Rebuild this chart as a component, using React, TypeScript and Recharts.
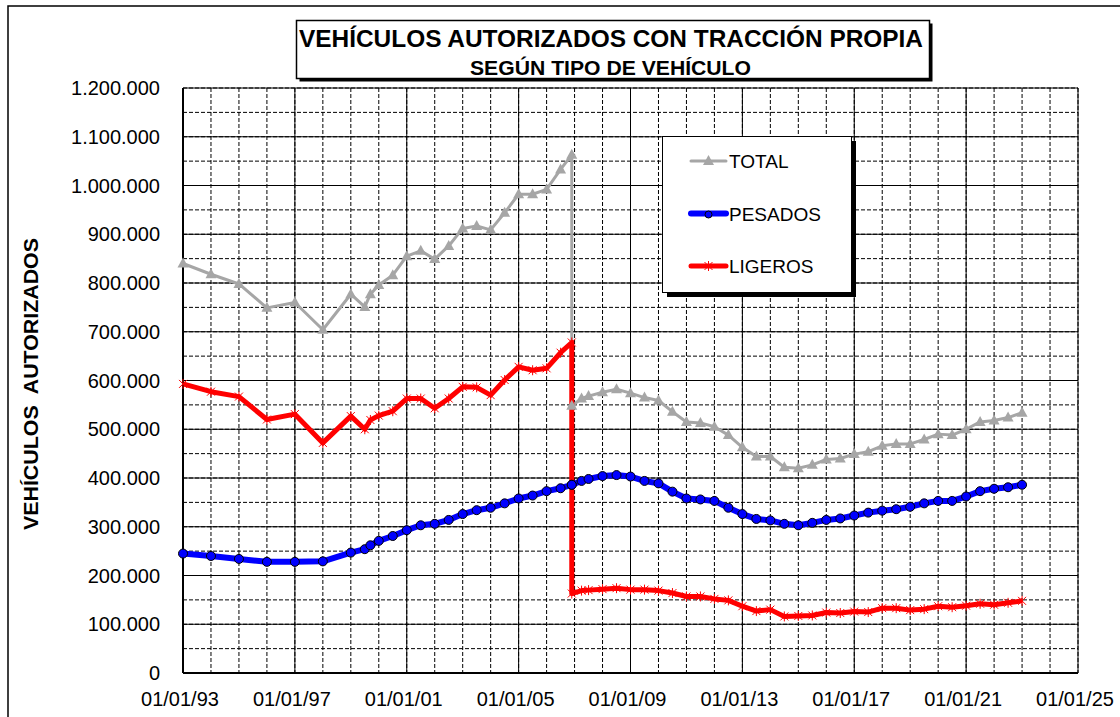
import { LineChart, Line, XAxis, YAxis, CartesianGrid, Legend } from 'recharts'

// fechas en años decimales (el corte de 2006 aparece dos veces: antes y después)
const dates = [
  1993, 1994, 1995, 1996, 1997, 1998, 1999, 1999.5, 1999.7, 2000, 2000.5, 2001,
  2001.5, 2002, 2002.5, 2003, 2003.5, 2004, 2004.5, 2005, 2005.5, 2006, 2006.5, 2006.9,
  2006.9, 2007.25, 2007.5, 2008, 2008.5, 2009, 2009.5, 2010, 2010.5, 2011, 2011.5, 2012,
  2012.5, 2013, 2013.5, 2014, 2014.5, 2015, 2015.5, 2016, 2016.5, 2017, 2017.5, 2018,
  2018.5, 2019, 2019.5, 2020, 2020.5, 2021, 2021.5, 2022, 2022.5, 2023,
]

const total = [
  840000, 818000, 798000, 749000, 760000, 704000, 777000, 751000, 777000, 796000, 816000, 855000,
  866000, 849000, 876000, 912000, 917000, 909000, 944000, 982000, 982000, 992000, 1033000, 1063000,
  548000, 563000, 568000, 576000, 582000, 574000, 565000, 559000, 536000, 515000, 513000, 505000,
  488000, 463000, 444000, 444000, 422000, 420000, 427000, 438000, 440000, 449000, 454000, 466000,
  470000, 470000, 479000, 490000, 488000, 500000, 515000, 518000, 524000, 534000,
]

const pesados = [
  245000, 240000, 234000, 228000, 228000, 229000, 247000, 254000, 262000, 271000, 281000, 293000,
  303000, 306000, 314000, 326000, 334000, 339000, 348000, 358000, 364000, 373000, 379000, 386000,
  386000, 394000, 398000, 404000, 406000, 403000, 394000, 389000, 372000, 358000, 356000, 353000,
  339000, 326000, 316000, 313000, 306000, 303000, 308000, 314000, 317000, 323000, 329000, 333000,
  336000, 341000, 348000, 353000, 353000, 362000, 373000, 378000, 381000, 386000,
]

const ligeros = [
  593000, 577000, 567000, 520000, 531000, 472000, 527000, 500000, 519000, 528000, 537000, 563000,
  563000, 543000, 563000, 587000, 586000, 570000, 601000, 628000, 621000, 625000, 657000, 678000,
  163000, 169000, 170000, 172000, 174000, 171000, 171000, 169000, 164000, 157000, 157000, 152000,
  149000, 137000, 127000, 130000, 116000, 117000, 118000, 124000, 123000, 126000, 125000, 133000,
  133000, 129000, 131000, 137000, 135000, 138000, 142000, 140000, 144000, 148000,
]

const xLabelTicks = [1993, 1997, 2001, 2005, 2009, 2013, 2017, 2021, 2025]
const xGridTicks = [
  1993, 1994, 1995, 1996, 1997, 1998, 1999, 2000, 2001, 2002, 2003, 2004, 2005, 2006, 2007, 2008, 2009,
  2010, 2011, 2012, 2013, 2014, 2015, 2016, 2017, 2018, 2019, 2020, 2021, 2022, 2023, 2024, 2025,
]
const yLabelTicks = [
  0, 100000, 200000, 300000, 400000, 500000, 600000, 700000, 800000, 900000, 1000000, 1100000, 1200000,
]
const yGridTicks = [
  0, 50000, 100000, 150000, 200000, 250000, 300000, 350000, 400000, 450000, 500000, 550000, 600000,
  650000, 700000, 750000, 800000, 850000, 900000, 950000, 1000000, 1050000, 1100000, 1150000, 1200000,
]

const legendOrder = ['total', 'pesados', 'ligeros']

const data = dates.map((d, i) => ({
  fecha: d,
  total: total[i],
  pesados: pesados[i],
  ligeros: ligeros[i],
}))

const GRAY = '#A6A6A6'
const BLUE = '#0000FF'
const RED = '#FF0000'
const FONT = '"Liberation Sans", Arial, sans-serif'

const fmtMiles = (v: number) => String(v).replace(/\B(?=(\d{3})+(?!\d))/g, '.')
const fmtFecha = (v: number) => `01/01/${String(v).slice(2)}`

function TriangleMark({ x, y }: { x: number; y: number }) {
  return <polygon points={`${x},${y - 6} ${x - 5.5},${y + 4} ${x + 5.5},${y + 4}`} fill={GRAY} />
}

function StarMark({ x, y }: { x: number; y: number }) {
  return (
    <g stroke={RED} strokeWidth={1}>
      <line x1={x - 4} y1={y - 4} x2={x + 4} y2={y + 4} />
      <line x1={x - 4} y1={y + 4} x2={x + 4} y2={y - 4} />
      <line x1={x} y1={y - 5} x2={x} y2={y + 5} />
    </g>
  )
}

const triangleDot = (p: any) => (
  <g key={`t-${p.index}`}>{p.cx != null && <TriangleMark x={p.cx} y={p.cy} />}</g>
)
const circleDot = (p: any) => (
  <circle key={`c-${p.index}`} cx={p.cx} cy={p.cy} r={4.5} fill={BLUE} stroke="#000" strokeWidth={1} />
)
const starDot = (p: any) => (
  <g key={`s-${p.index}`}>{p.cx != null && <StarMark x={p.cx} y={p.cy} />}</g>
)

const legendStyle: Record<string, { color: string; width: number }> = {
  total: { color: GRAY, width: 3 },
  pesados: { color: BLUE, width: 6 },
  ligeros: { color: RED, width: 5 },
}

function LegendBox({ payload }: any) {
  const items = [...(payload || [])].sort(
    (a: any, b: any) => legendOrder.indexOf(a.dataKey) - legendOrder.indexOf(b.dataKey)
  )
  return (
    <svg width={196} height={164}>
      <rect x={5} y={5} width={189} height={156} fill="#000" />
      <rect x={0.5} y={0.5} width={189} height={156} fill="#fff" stroke="#000" strokeWidth={1} />
      {items.map((entry: any, i: number) => {
        const st = legendStyle[entry.dataKey] || { color: entry.color, width: 3 }
        const cy = 25 + i * 52.5
        return (
          <g key={entry.value}>
            <line x1={29} y1={cy} x2={64} y2={cy} stroke={st.color} strokeWidth={st.width} strokeLinecap="round" />
            {entry.dataKey === 'total' && <TriangleMark x={46.5} y={cy} />}
            {entry.dataKey === 'pesados' && (
              <circle cx={46.5} cy={cy + 1} r={3.5} fill={BLUE} stroke="#000" strokeWidth={1} />
            )}
            {entry.dataKey === 'ligeros' && <StarMark x={46.5} y={cy} />}
            <text x={67} y={cy + 7} fontSize={19} fontFamily={FONT} fill="#000">
              {entry.value}
            </text>
          </g>
        )
      })}
    </svg>
  )
}

export default function App() {
  return (
    <div
      style={{
        position: 'fixed',
        left: 0,
        top: 0,
        width: 1120,
        height: 717,
        background: '#fff',
        overflow: 'hidden',
        fontFamily: FONT,
      }}
    >
      <div style={{ position: 'absolute', left: 0, top: 0 }}>
        <LineChart width={1120} height={717} data={data} margin={{ top: 88, right: 42, bottom: 14, left: 63 }}>
          <CartesianGrid
            stroke="#000"
            strokeDasharray="4 2"
            strokeWidth={1}
            horizontalValues={yGridTicks}
            verticalValues={xGridTicks}
          />
          <CartesianGrid stroke="#000" strokeWidth={1} horizontalValues={yLabelTicks} verticalValues={xLabelTicks} />
          <XAxis
            dataKey="fecha"
            type="number"
            domain={[1993, 2025]}
            ticks={xLabelTicks}
            interval={0}
            tickFormatter={fmtFecha}
            tickLine={false}
            tickSize={0}
            tickMargin={19}
            height={30}
            axisLine={{ stroke: '#000', strokeWidth: 2 }}
            tick={{ fill: '#000', fontSize: 20, fontFamily: FONT, dx: -3 }}
          />
          <XAxis
            xAxisId="top"
            orientation="top"
            dataKey="fecha"
            type="number"
            domain={[1993, 2025]}
            ticks={xLabelTicks}
            tick={false}
            tickLine={false}
            height={0}
            axisLine={{ stroke: '#000', strokeWidth: 2 }}
          />
          <YAxis
            type="number"
            domain={[0, 1200000]}
            ticks={yLabelTicks}
            interval={0}
            tickFormatter={fmtMiles}
            tickLine={false}
            tickSize={0}
            tickMargin={23}
            width={120}
            axisLine={{ stroke: '#000', strokeWidth: 2 }}
            tick={{ fill: '#000', fontSize: 20, fontFamily: FONT }}
          />
          <YAxis
            yAxisId="right"
            orientation="right"
            type="number"
            domain={[0, 1200000]}
            ticks={yLabelTicks}
            tick={false}
            tickLine={false}
            width={0}
            axisLine={{ stroke: '#000', strokeWidth: 2 }}
          />
          <Legend
            layout="vertical"
            align="center"
            verticalAlign="middle"
            wrapperStyle={{ left: 662, top: 136, width: 196, height: 164 }}
            content={<LegendBox />}
          />
          <Line
            dataKey="total"
            name="TOTAL"
            type="linear"
            stroke={GRAY}
            strokeWidth={3}
            strokeLinejoin="round"
            dot={triangleDot}
            activeDot={false}
            isAnimationActive={false}
          />
          <Line
            dataKey="pesados"
            name="PESADOS"
            type="linear"
            stroke={BLUE}
            strokeWidth={6}
            strokeLinejoin="round"
            dot={circleDot}
            activeDot={false}
            isAnimationActive={false}
          />
          <Line
            dataKey="ligeros"
            name="LIGEROS"
            type="linear"
            stroke={RED}
            strokeWidth={5}
            strokeLinejoin="round"
            dot={starDot}
            activeDot={false}
            isAnimationActive={false}
          />
        </LineChart>
      </div>
      <svg width={1120} height={717} style={{ position: 'absolute', left: 0, top: 0, pointerEvents: 'none' }}>
        <rect x={8} y={6} width={1200} height={800} fill="none" stroke="#000" strokeWidth={1.5} />
        <rect x={299.5} y={23.5} width={633} height={58} fill="#000" />
        <rect x={296.5} y={20.5} width={633} height={58} fill="#fff" stroke="#000" strokeWidth={1.5} />
        <text
          x={299}
          y={46.5}
          fontSize={24}
          fontWeight="bold"
          fontFamily={FONT}
          textLength={624}
          lengthAdjust="spacingAndGlyphs"
          fill="#000"
        >
          VEHÍCULOS AUTORIZADOS CON TRACCIÓN PROPIA
        </text>
        <text
          x={470}
          y={75}
          fontSize={20}
          fontWeight="bold"
          fontFamily={FONT}
          textLength={281}
          lengthAdjust="spacingAndGlyphs"
          fill="#000"
        >
          SEGÚN TIPO DE VEHÍCULO
        </text>
        <text
          x={37.5}
          y={384}
          transform="rotate(-90, 37.5, 384)"
          textAnchor="middle"
          fontSize={21}
          fontWeight="bold"
          fontFamily={FONT}
          textLength={292}
          lengthAdjust="spacingAndGlyphs"
          style={{ whiteSpace: 'pre' }}
          fill="#000"
        >
          {'VEHÍCULOS  AUTORIZADOS'}
        </text>
      </svg>
    </div>
  )
}
